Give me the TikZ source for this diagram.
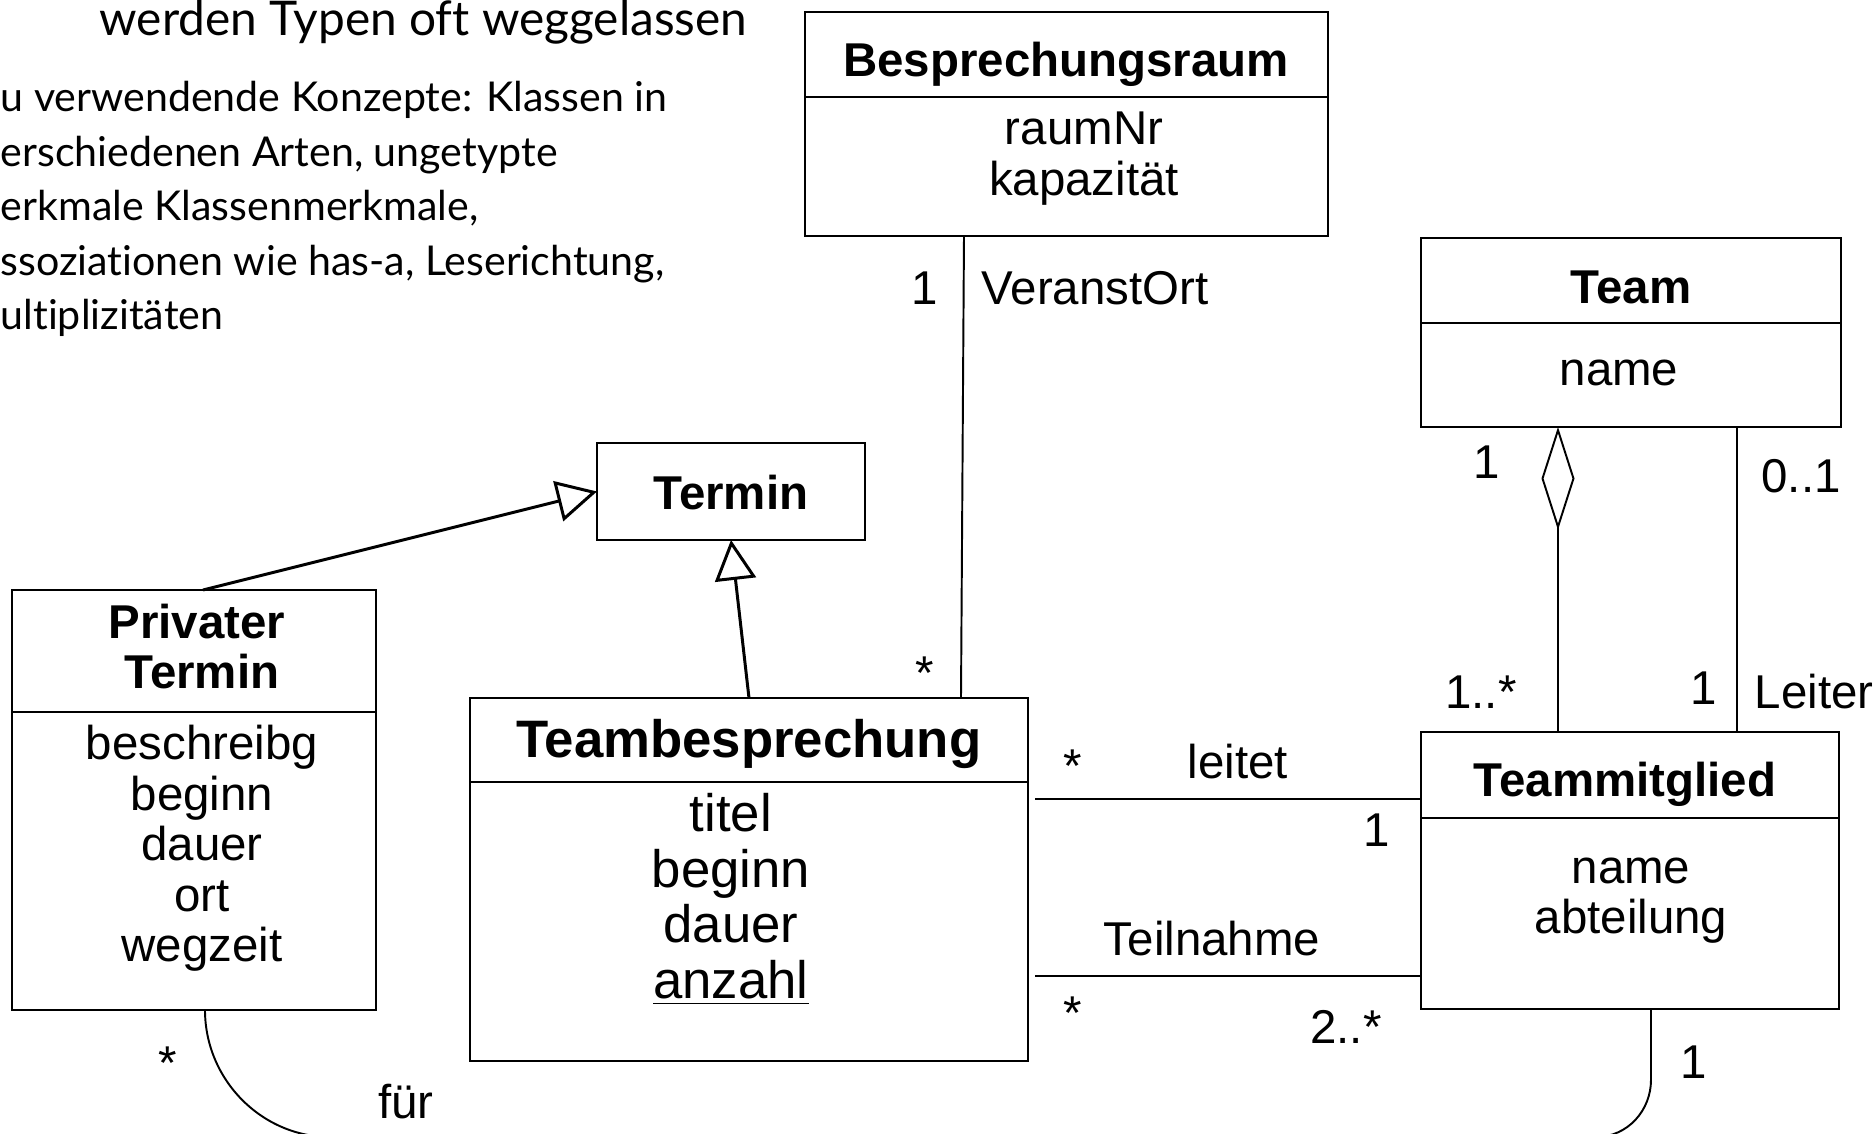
\documentclass[tikz,border=0pt]{standalone}
\usepackage{fontspec}
\setmainfont{Liberation Sans}
\newfontfamily\latofont[Ligatures=NoCommon]{Lato}
\usetikzlibrary{arrows.meta}

\tikzset{
  cls/.style={draw,line width=0.65pt,inner sep=0pt,outer sep=0pt},
  sepline/.style={line width=0.45pt},
  title/.style={anchor=base,inner sep=0pt,font=\fontsize{13.5}{14}\selectfont\bfseries},
  attr/.style={anchor=base,inner sep=0pt,font=\fontsize{13.5}{14}\selectfont},
  lbl/.style={anchor=base,inner sep=0pt,font=\fontsize{13.5}{14}\selectfont},
  gen/.style={line width=0.85pt,-{Triangle[open,length=4mm,width=4.1mm]}},
  aggr/.style={line width=0.55pt,{Diamond[open,length=10.3mm,width=3.3mm]}-},
  assoc/.style={line width=0.55pt},
  note/.style={anchor=base west,inner sep=0pt,font=\latofont\fontsize{11.7}{12}\selectfont},
}

\begin{document}
\begin{tikzpicture}[x=0.1mm,y=-0.1mm]
\useasboundingbox (0,0) rectangle (1876,1134);

% text at top left
\node[note,font=\latofont\fontsize{13.6}{14}\selectfont] (n0) at (99,36) {werden Typen oft weggelassen};
\foreach \t [count=\i] in {u verwendende Konzepte: Klassen in,{erschiedenen Arten, ungetypte},{erkmale Klassenmerkmale,},{ssoziationen wie has-a, Leserichtung,},ultiplizitäten}
  \node[note] (n\i) at (0,{112+(\i-1)*54.4}) {\t};

% Besprechungsraum
\node[cls,minimum width=52.3mm,minimum height=22.4mm] (br) at (1066.5,124) {};
\draw[sepline] (br.west |- 0,97) -- (br.east |- 0,97);
\node[title] (br-t) at (1066,77) {Besprechungsraum};
\foreach \t [count=\i] in {raumNr,kapazität}
  \node[attr] (br-a\i) at (1084,{145+(\i-1)*51}) {\t};

% Team
\node[cls,minimum width=42mm,minimum height=18.9mm] (team) at (1631,332.5) {};
\draw[sepline] (team.west |- 0,323) -- (team.east |- 0,323);
\node[title] (team-t) at (1631,304) {Team};
\node[attr] (team-a1) at (1619,386) {name};

% Termin
\node[cls,minimum width=26.8mm,minimum height=9.7mm] (termin) at (731,491.5) {};
\node[title] (termin-t) at (731,510) {Termin};

% Privater Termin
\node[cls,minimum width=36.4mm,minimum height=42mm] (pt) at (194,800) {};
\draw[sepline] (pt.west |- 0,712) -- (pt.east |- 0,712);
\node[title] (pt-t1) at (197,639) {Privater};
\node[title] (pt-t2) at (202,689) {Termin};
\foreach \t [count=\i] in {beschreibg,beginn,dauer,ort,wegzeit}
  \node[attr] (pt-a\i) at (202,{760+(\i-1)*50.4}) {\t};

% Teambesprechung
\node[cls,minimum width=55.8mm,minimum height=36.3mm] (tb) at (749,879.5) {};
\draw[sepline] (tb.west |- 0,782) -- (tb.east |- 0,782);
\node[title,font=\fontsize{15}{16}\selectfont\bfseries] (tb-t) at (749,758) {Teambesprechung};
\foreach \t [count=\i] in {titel,beginn,dauer,\underline{anzahl}}
  \node[attr,font=\fontsize{15}{16}\selectfont] (tb-a\i) at (731,{832+(\i-1)*55.4}) {\t};

% Teammitglied
\node[cls,minimum width=41.8mm,minimum height=27.7mm] (tm) at (1630,870.5) {};
\draw[sepline] (tm.west |- 0,818) -- (tm.east |- 0,818);
\node[title] (tm-t) at (1625,797) {Teammitglied};
\foreach \t [count=\i] in {name,abteilung}
  \node[attr] (tm-a\i) at (1631,{884+(\i-1)*50}) {\t};

% Vererbung
\draw[gen] ([xshift=0.9mm]pt.north) -- (termin.west);
\draw[gen] (tb.north) -- (termin.south);

% Assoziationen
\draw[assoc] (br.south -| 964,0) -- (tb.north -| 961,0);
\node[lbl] (m1) at (925,305) {1};
\node[lbl,anchor=base west] (r1) at (981,305) {VeranstOrt};
\node[lbl] (m2) at (925,690) {*};

\draw[aggr] (team.south -| 1558,0) -- (tm.north -| 1558,0);
\node[lbl] (m3) at (1487,479) {1};
\node[lbl] (m4) at (1481,709) {1..*};

\draw[assoc] (team.south -| 1737,0) -- (tm.north -| 1737,0);
\node[lbl] (m5) at (1801,493) {0..1};
\node[lbl] (m6) at (1704,705) {1};
\node[lbl,anchor=base west] (r2) at (1754,709) {Leiter};

\draw[assoc,shorten <=0.7mm] (tb.east |- 0,799) -- (tm.west |- 0,799);
\node[lbl] (m7) at (1073,783) {*};
\node[lbl] (r3) at (1238,779) {leitet};
\node[lbl] (m8) at (1377,847) {1};

\draw[assoc,shorten <=0.7mm] (tb.east |- 0,976) -- (tm.west |- 0,976);
\node[lbl] (r4) at (1212,956) {Teilnahme};
\node[lbl] (m9) at (1073,1030) {*};
\node[lbl] (m10) at (1346,1044) {2..*};

\draw[assoc] (pt.south -| 205,0) .. controls (205,1080) and (262,1137) .. (330,1137) -- (1596,1137) .. controls (1628,1137) and (1651,1110) .. (1651,1080) -- (tm.south -| 1651,0);
\node[lbl] (m11) at (168,1080) {*};
\node[lbl] (r5) at (406,1119) {für};
\node[lbl] (m12) at (1694,1079) {1};
\end{tikzpicture}
\end{document}
